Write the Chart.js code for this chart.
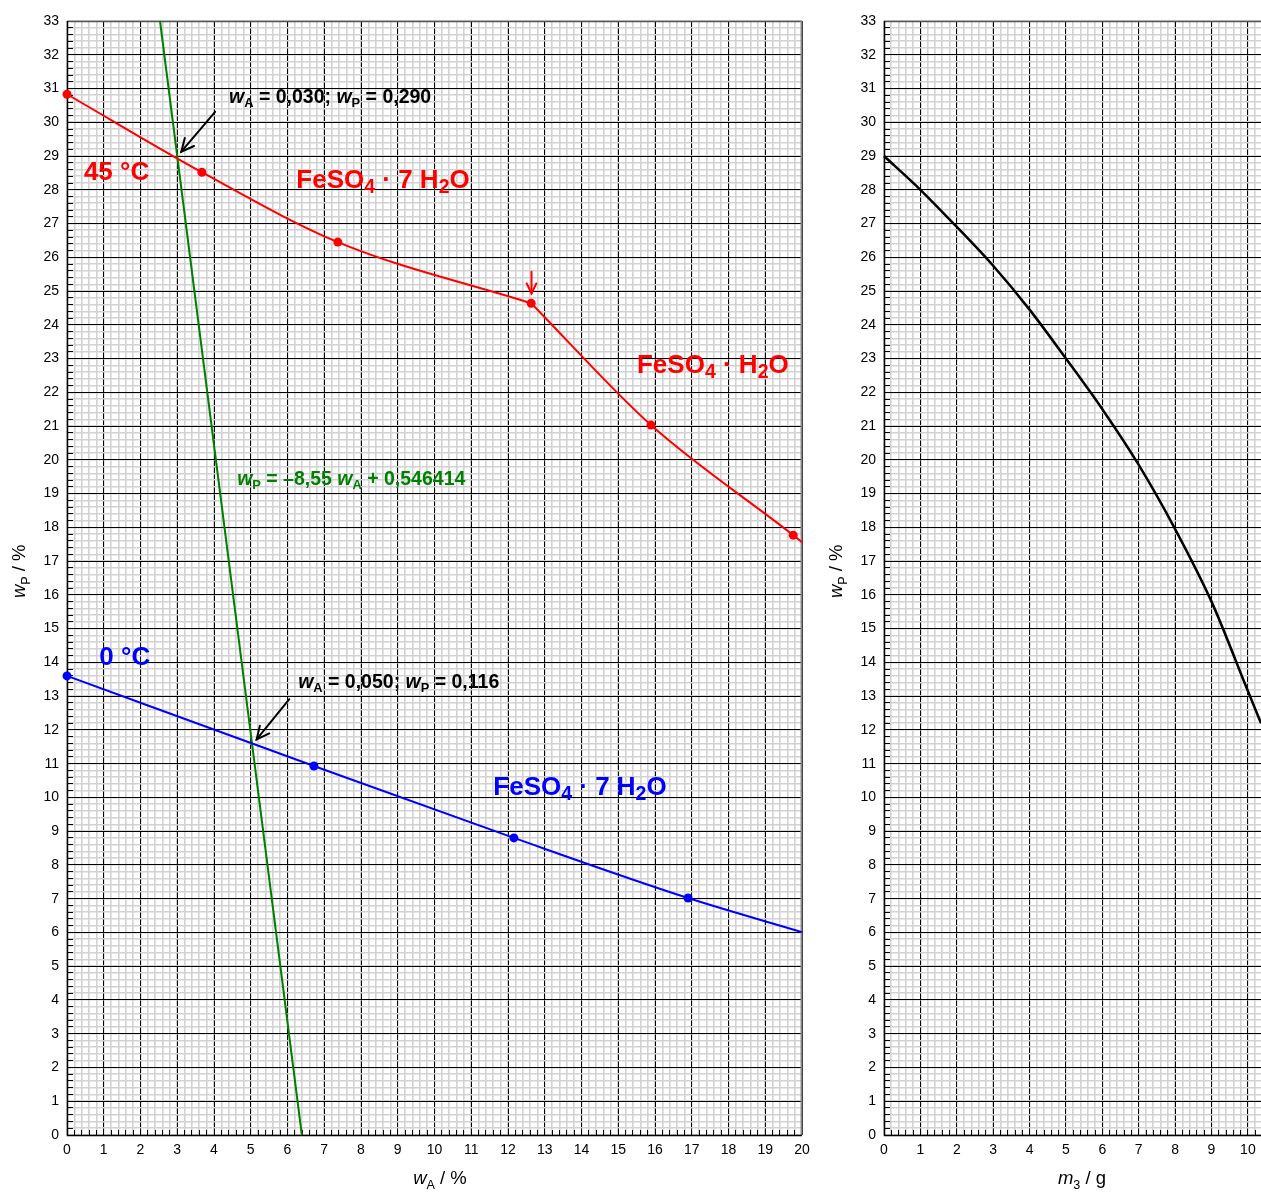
<!DOCTYPE html>
<html><head><meta charset="utf-8">
<script src="https://cdn.jsdelivr.net/npm/chart.js@4/dist/chart.umd.min.js"></script>
<style>
html,body{margin:0;padding:0;background:#fff;overflow:hidden}
#wrap{position:relative;width:1261px;height:1192px;overflow:hidden}
#c1{position:absolute;left:0;top:0}
#c2{position:absolute;left:815px;top:0}
</style></head><body>
<div id="wrap">
<canvas id="c1" width="815" height="1192"></canvas>
<canvas id="c2" width="446" height="1192"></canvas>
</div>
<script>
// ---------- data ----------
// 45 °C solubility curve, FeSO4 · 7 H2O branch
const red7X = [0, 3.67, 7.37, 12.63];
const red7Y = [30.83, 28.52, 26.45, 24.64];
// 45 °C, FeSO4 · H2O branch (last value = end of drawn line at the frame)
const red1X = [12.63, 15.89, 19.76, 20];
const red1Y = [24.64, 21.03, 17.77, 17.56];
// 0 °C solubility curve (last value = end of line at the frame)
const blueX = [0, 6.72, 12.16, 16.9, 20];
const blueY = [13.6, 10.93, 8.80, 7.02, 6.01];
// mixing line wP = -8.55 wA + 0.546414, end points at the frame
const greenX = [2.531, 6.391];
const greenY = [33, 0];
// right panel: wP versus m3
const m3X = [0, 1, 2, 3, 4, 5, 6, 7, 8, 9, 10, 10.36];
const m3Y = [29.0, 28.0, 26.9, 25.75, 24.45, 23.0, 21.5, 19.85, 17.95, 15.8, 13.15, 12.2];
// axis ranges
const leftXMax = 20, rightXMax = 10.36, yMax = 33;

const FONT = '"Liberation Sans", Arial, Helvetica, sans-serif';
const pts = (xs, ys) => xs.map((x, i) => ({x, y: ys[i]}));

function drawRich(ctx, x, y, segs, size, color, bold, subScale, subOff) {
  ctx.fillStyle = color;
  ctx.textBaseline = 'alphabetic';
  ctx.textAlign = 'left';
  let cx = x;
  for (const s of segs) {
    const sz = s.sub ? size * subScale : size;
    ctx.font = (s.i ? 'italic ' : '') + (bold ? 'bold ' : '') + sz + 'px ' + FONT;
    ctx.fillText(s.t, cx, y + (s.sub ? size * subOff : 0));
    cx += ctx.measureText(s.t).width;
  }
  return cx - x;
}
function richWidth(ctx, segs, size, bold, subScale) {
  let w = 0;
  for (const s of segs) {
    const sz = s.sub ? size * subScale : size;
    ctx.font = (s.i ? 'italic ' : '') + (bold ? 'bold ' : '') + sz + 'px ' + FONT;
    w += ctx.measureText(s.t).width;
  }
  return w;
}
function arrow(ctx, x1, y1, x2, y2, color, head) {
  ctx.save();
  ctx.strokeStyle = color; ctx.lineWidth = 2; ctx.lineCap = 'round';
  ctx.beginPath(); ctx.moveTo(x1, y1); ctx.lineTo(x2, y2); ctx.stroke();
  const a = Math.atan2(y2 - y1, x2 - x1), sp = 0.45;
  ctx.beginPath();
  ctx.moveTo(x2 - head * Math.cos(a - sp), y2 - head * Math.sin(a - sp));
  ctx.lineTo(x2, y2);
  ctx.lineTo(x2 - head * Math.cos(a + sp), y2 - head * Math.sin(a + sp));
  ctx.stroke();
  ctx.restore();
}

function makeDecor(cfg) {
  return {
    id: 'decor',
    beforeDatasetsDraw(chart) {
      const {ctx, chartArea: a} = chart;
      const xs = chart.scales.xMinor, ys = chart.scales.yMinor;
      ctx.save();
      ctx.strokeStyle = '#000'; ctx.lineWidth = 1;
      ctx.beginPath();
      ys.ticks.forEach(t => { const p = Math.round(ys.getPixelForValue(t.value) - 0.5) + 0.5; ctx.moveTo(a.left, p); ctx.lineTo(a.left + 6, p); });
      xs.ticks.forEach(t => { const p = Math.round(xs.getPixelForValue(t.value) - 0.5) + 0.5; ctx.moveTo(p, a.bottom); ctx.lineTo(p, a.bottom - 5); });
      ctx.stroke();
      // frame
      ctx.strokeStyle = '#555'; ctx.lineWidth = 1.5;
      ctx.beginPath(); ctx.moveTo(a.left, a.top + 0.5); ctx.lineTo(a.right, a.top + 0.5); ctx.stroke();
      if (cfg.rightFrame) {
        ctx.strokeStyle = '#888'; ctx.lineWidth = 2;
        ctx.beginPath(); ctx.moveTo(a.right - 0.5, a.top); ctx.lineTo(a.right - 0.5, a.bottom); ctx.stroke();
      }
      ctx.strokeStyle = '#000'; ctx.lineWidth = 1.5;
      ctx.beginPath(); ctx.moveTo(a.left + 0.5, a.top); ctx.lineTo(a.left + 0.5, a.bottom + 0.5); ctx.lineTo(a.right, a.bottom + 0.5); ctx.stroke();
      ctx.restore();
    },
    afterDatasetsDraw(chart) {
      const {ctx, chartArea: a} = chart;
      const X = chart.scales.x, Y = chart.scales.y;
      ctx.save();
      (cfg.arrows || []).forEach(r => arrow(ctx, X.getPixelForValue(r.x1), Y.getPixelForValue(r.y1), X.getPixelForValue(r.x2), Y.getPixelForValue(r.y2), r.color, r.head));
      (cfg.labels || []).forEach(l => drawRich(ctx, X.getPixelForValue(l.x), Y.getPixelForValue(l.y), l.segs, l.size, l.color, true, l.sub, l.off));
      // axis titles
      const ts = 18.5;
      const xt = cfg.xTitle;
      const w = richWidth(ctx, xt.segs, ts, false, 0.68);
      drawRich(ctx, X.getPixelForValue(xt.at) - w / 2, a.bottom + 49, xt.segs, ts, '#000', false, 0.68, 0.27);
      const yt = cfg.yTitle;
      const wy = richWidth(ctx, yt.segs, ts, false, 0.68);
      ctx.translate(a.left - 42, Y.getPixelForValue(yt.at));
      ctx.rotate(-Math.PI / 2);
      drawRich(ctx, -wy / 2, 0, yt.segs, ts, '#000', false, 0.68, 0.27);
      ctx.restore();
    }
  };
}

function scales(xMax, yW, xH) {
  const tickFont = {family: FONT, size: 14};
  return {
    xMinor: {type: 'linear', position: 'bottom', min: 0, max: xMax, weight: 0,
      ticks: {display: false, stepSize: 0.2, includeBounds: false},
      grid: {color: '#d2d2d2', lineWidth: 1.6, drawTicks: false, z: -4},
      border: {display: false}, afterFit: s => { s.height = 0; s.paddingLeft = 0; s.paddingRight = 0; }},
    x: {type: 'linear', position: 'bottom', min: 0, max: xMax, weight: 1,
      ticks: {stepSize: 1, autoSkip: false, maxRotation: 0, includeBounds: false, padding: 7, color: '#000', font: tickFont},
      grid: {color: '#000', lineWidth: 1, drawTicks: false, z: -3},
      border: {display: false}, afterFit: s => { s.height = xH; s.paddingLeft = 0; s.paddingRight = 0; }},
    yMinor: {type: 'linear', position: 'left', min: 0, max: yMax, weight: 0,
      ticks: {display: false, stepSize: 0.2, includeBounds: false},
      grid: {color: '#d2d2d2', lineWidth: 1.6, drawTicks: false, z: -2},
      border: {display: false}, afterFit: s => { s.width = 0; s.paddingTop = 0; s.paddingBottom = 0; }},
    y: {type: 'linear', position: 'left', min: 0, max: yMax, weight: 1,
      ticks: {stepSize: 1, autoSkip: false, padding: 8, color: '#000', font: tickFont},
      grid: {color: '#000', lineWidth: 1, drawTicks: false, z: -1},
      border: {display: false}, afterFit: s => { s.width = yW; s.paddingTop = 0; s.paddingBottom = 0; }}
  };
}

const lineDs = (data, color, width, radius, extra) => Object.assign({
  data, borderColor: color, backgroundColor: color, borderWidth: width,
  pointRadius: radius, pointHoverRadius: 0, pointBorderWidth: 0,
  cubicInterpolationMode: 'monotone', clip: false, xAxisID: 'x', yAxisID: 'y'
}, extra || {});

const sub = (t) => ({t, sub: 1});
const it = (t) => ({t, i: 1});
const leftCfg = {
  rightFrame: true,
  labels: [
    {x: 0.46, y: 28.29, size: 26, sub: 0.75, off: 0.2, color: '#ff0000', segs: [{t: '45 °C'}]},
    {x: 6.24, y: 28.05, size: 26, sub: 0.75, off: 0.2, color: '#ff0000', segs: [{t: 'FeSO'}, sub('4'), {t: ' · 7 H'}, sub('2'), {t: 'O'}]},
    {x: 15.51, y: 22.57, size: 26, sub: 0.75, off: 0.2, color: '#ff0000', segs: [{t: 'FeSO'}, sub('4'), {t: ' · H'}, sub('2'), {t: 'O'}]},
    {x: 4.41, y: 30.57, size: 19.5, sub: 0.66, off: 0.2, color: '#000', segs: [it('w'), sub('A'), {t: ' = 0,030; '}, it('w'), sub('P'), {t: ' = 0,290'}]},
    {x: 4.63, y: 19.25, size: 19.5, sub: 0.66, off: 0.2, color: '#008000', segs: [it('w'), sub('P'), {t: ' = –8,55 '}, it('w'), sub('A'), {t: ' + 0,546414'}]},
    {x: 0.88, y: 13.92, size: 26, sub: 0.75, off: 0.2, color: '#0000ff', segs: [{t: '0 °C'}]},
    {x: 6.29, y: 13.24, size: 19.5, sub: 0.66, off: 0.2, color: '#000', segs: [it('w'), sub('A'), {t: ' = 0,050; '}, it('w'), sub('P'), {t: ' = 0,116'}]},
    {x: 11.6, y: 10.07, size: 26, sub: 0.75, off: 0.2, color: '#0000ff', segs: [{t: 'FeSO'}, sub('4'), {t: ' · 7 H'}, sub('2'), {t: 'O'}]}
  ],
  arrows: [
    {x1: 4.03, y1: 30.31, x2: 3.11, y2: 29.13, color: '#000', head: 14},
    {x1: 6.05, y1: 12.91, x2: 5.16, y2: 11.72, color: '#000', head: 14},
    {x1: 12.64, y1: 25.57, x2: 12.64, y2: 24.93, color: '#ff0000', head: 11}
  ],
  xTitle: {at: 10.15, segs: [it('w'), sub('A'), {t: ' / %'}]},
  yTitle: {at: 16.7, segs: [it('w'), sub('P'), {t: ' / %'}]}
};
const rightCfg = {
  rightFrame: false,
  labels: [], arrows: [],
  xTitle: {at: 5.44, segs: [it('m'), sub('3'), {t: ' / g'}]},
  yTitle: {at: 16.7, segs: [it('w'), sub('P'), {t: ' / %'}]}
};

new Chart(document.getElementById('c1'), {
  type: 'line',
  data: {datasets: [
    lineDs(pts(red7X, red7Y), '#ff0000', 2, 4.5),
    lineDs(pts(red1X, red1Y), '#ff0000', 2, [0, 4.5, 4.5, 0]),
    lineDs(pts(blueX, blueY), '#0000ff', 2, [4.5, 4.5, 4.5, 4.5, 0]),
    lineDs(pts(greenX, greenY), '#008000', 2, 0, {cubicInterpolationMode: 'default', tension: 0})
  ]},
  options: {
    responsive: false, animation: false, events: [],
    layout: {padding: {left: 0, top: 21, right: 13, bottom: 0}},
    plugins: {legend: {display: false}, tooltip: {enabled: false}},
    scales: scales(leftXMax, 67, 57)
  },
  plugins: [makeDecor(leftCfg)]
});

new Chart(document.getElementById('c2'), {
  type: 'line',
  data: {datasets: [
    lineDs(pts(m3X, m3Y), '#000000', 2.5, 0)
  ]},
  options: {
    responsive: false, animation: false, events: [],
    layout: {padding: {left: 0, top: 21, right: 0, bottom: 0}},
    plugins: {legend: {display: false}, tooltip: {enabled: false}},
    scales: scales(rightXMax, 69, 57)
  },
  plugins: [makeDecor(rightCfg)]
});
</script>
</body></html>
